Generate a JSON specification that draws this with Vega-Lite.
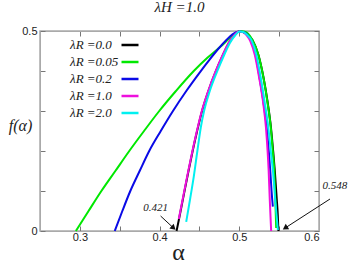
{
  "$schema": "https://vega.github.io/schema/vega-lite/v6.json",
  "width": 279,
  "height": 200,
  "autosize": "none",
  "padding": {"left": 40, "top": 31, "right": 35, "bottom": 36},
  "background": "white",
  "title": {"text": "λH =1.0", "font": "Liberation Serif", "fontStyle": "italic", "fontSize": 15, "fontWeight": "normal", "color": "#222", "offset": 10, "anchor": "middle"},
  "config": {
    "view": {"stroke": "#aaa", "strokeWidth": 1.5},
    "axis": {"domainColor": "#aaa", "tickColor": "#777", "labelFont": "Liberation Sans", "labelFontSize": 11, "labelColor": "#222", "grid": false}
  },
  "datasets": {
    "curves": [
      {"lambda": "λR =0.0", "alpha": 0.4213, "f": 0},
      {"lambda": "λR =0.0", "alpha": 0.4244, "f": 0.03},
      {"lambda": "λR =0.0", "alpha": 0.4313, "f": 0.1},
      {"lambda": "λR =0.0", "alpha": 0.4363, "f": 0.15},
      {"lambda": "λR =0.0", "alpha": 0.4415, "f": 0.2},
      {"lambda": "λR =0.0", "alpha": 0.4471, "f": 0.25},
      {"lambda": "λR =0.0", "alpha": 0.4533, "f": 0.3},
      {"lambda": "λR =0.0", "alpha": 0.4613, "f": 0.35},
      {"lambda": "λR =0.0", "alpha": 0.4708, "f": 0.4},
      {"lambda": "λR =0.0", "alpha": 0.4795, "f": 0.44},
      {"lambda": "λR =0.0", "alpha": 0.4868, "f": 0.47},
      {"lambda": "λR =0.0", "alpha": 0.4943, "f": 0.49},
      {"lambda": "λR =0.0", "alpha": 0.4995, "f": 0.4985},
      {"lambda": "λR =0.0", "alpha": 0.5045, "f": 0.4975},
      {"lambda": "λR =0.0", "alpha": 0.5095, "f": 0.492},
      {"lambda": "λR =0.0", "alpha": 0.5165, "f": 0.4775},
      {"lambda": "λR =0.0", "alpha": 0.524, "f": 0.44},
      {"lambda": "λR =0.0", "alpha": 0.5305, "f": 0.3825},
      {"lambda": "λR =0.0", "alpha": 0.5357, "f": 0.32},
      {"lambda": "λR =0.0", "alpha": 0.5398, "f": 0.2575},
      {"lambda": "λR =0.0", "alpha": 0.5425, "f": 0.2},
      {"lambda": "λR =0.0", "alpha": 0.5445, "f": 0.1525},
      {"lambda": "λR =0.0", "alpha": 0.547, "f": 0.08},
      {"lambda": "λR =0.0", "alpha": 0.5483, "f": 0.04},
      {"lambda": "λR =0.0", "alpha": 0.5491, "f": 0},

      {"lambda": "λR =0.05", "alpha": 0.295, "f": 0},
      {"lambda": "λR =0.05", "alpha": 0.3109, "f": 0.05},
      {"lambda": "λR =0.05", "alpha": 0.327, "f": 0.1},
      {"lambda": "λR =0.05", "alpha": 0.3445, "f": 0.15},
      {"lambda": "λR =0.05", "alpha": 0.362, "f": 0.2},
      {"lambda": "λR =0.05", "alpha": 0.3805, "f": 0.25},
      {"lambda": "λR =0.05", "alpha": 0.3996, "f": 0.3},
      {"lambda": "λR =0.05", "alpha": 0.4205, "f": 0.35},
      {"lambda": "λR =0.05", "alpha": 0.4429, "f": 0.4},
      {"lambda": "λR =0.05", "alpha": 0.46, "f": 0.433},
      {"lambda": "λR =0.05", "alpha": 0.4766, "f": 0.461},
      {"lambda": "λR =0.05", "alpha": 0.4909, "f": 0.487},
      {"lambda": "λR =0.05", "alpha": 0.501, "f": 0.5},
      {"lambda": "λR =0.05", "alpha": 0.5058, "f": 0.499},
      {"lambda": "λR =0.05", "alpha": 0.5108, "f": 0.494},
      {"lambda": "λR =0.05", "alpha": 0.5163, "f": 0.4785},
      {"lambda": "λR =0.05", "alpha": 0.524, "f": 0.44},
      {"lambda": "λR =0.05", "alpha": 0.5304, "f": 0.3825},
      {"lambda": "λR =0.05", "alpha": 0.5355, "f": 0.32},
      {"lambda": "λR =0.05", "alpha": 0.5396, "f": 0.2575},
      {"lambda": "λR =0.05", "alpha": 0.542, "f": 0.2},
      {"lambda": "λR =0.05", "alpha": 0.5438, "f": 0.1525},
      {"lambda": "λR =0.05", "alpha": 0.5452, "f": 0.08},
      {"lambda": "λR =0.05", "alpha": 0.5463, "f": 0.0075},

      {"lambda": "λR =0.2", "alpha": 0.3438, "f": 0},
      {"lambda": "λR =0.2", "alpha": 0.3533, "f": 0.05},
      {"lambda": "λR =0.2", "alpha": 0.3633, "f": 0.1},
      {"lambda": "λR =0.2", "alpha": 0.375, "f": 0.15},
      {"lambda": "λR =0.2", "alpha": 0.387, "f": 0.2},
      {"lambda": "λR =0.2", "alpha": 0.4015, "f": 0.25},
      {"lambda": "λR =0.2", "alpha": 0.4168, "f": 0.3},
      {"lambda": "λR =0.2", "alpha": 0.4335, "f": 0.35},
      {"lambda": "λR =0.2", "alpha": 0.451, "f": 0.398},
      {"lambda": "λR =0.2", "alpha": 0.4625, "f": 0.428},
      {"lambda": "λR =0.2", "alpha": 0.4735, "f": 0.455},
      {"lambda": "λR =0.2", "alpha": 0.4835, "f": 0.477},
      {"lambda": "λR =0.2", "alpha": 0.4915, "f": 0.4915},
      {"lambda": "λR =0.2", "alpha": 0.499, "f": 0.4985},
      {"lambda": "λR =0.2", "alpha": 0.5045, "f": 0.4975},
      {"lambda": "λR =0.2", "alpha": 0.5095, "f": 0.492},
      {"lambda": "λR =0.2", "alpha": 0.5145, "f": 0.476},
      {"lambda": "λR =0.2", "alpha": 0.5205, "f": 0.44},
      {"lambda": "λR =0.2", "alpha": 0.5255, "f": 0.3825},
      {"lambda": "λR =0.2", "alpha": 0.5305, "f": 0.32},
      {"lambda": "λR =0.2", "alpha": 0.5345, "f": 0.2575},
      {"lambda": "λR =0.2", "alpha": 0.537, "f": 0.2},
      {"lambda": "λR =0.2", "alpha": 0.5388, "f": 0.1525},
      {"lambda": "λR =0.2", "alpha": 0.5405, "f": 0.1},
      {"lambda": "λR =0.2", "alpha": 0.5421, "f": 0.061},

      {"lambda": "λR =1.0", "alpha": 0.4241, "f": 0.03},
      {"lambda": "λR =1.0", "alpha": 0.431, "f": 0.1},
      {"lambda": "λR =1.0", "alpha": 0.436, "f": 0.15},
      {"lambda": "λR =1.0", "alpha": 0.4412, "f": 0.2},
      {"lambda": "λR =1.0", "alpha": 0.4468, "f": 0.25},
      {"lambda": "λR =1.0", "alpha": 0.453, "f": 0.3},
      {"lambda": "λR =1.0", "alpha": 0.461, "f": 0.35},
      {"lambda": "λR =1.0", "alpha": 0.4705, "f": 0.4},
      {"lambda": "λR =1.0", "alpha": 0.4792, "f": 0.44},
      {"lambda": "λR =1.0", "alpha": 0.4865, "f": 0.47},
      {"lambda": "λR =1.0", "alpha": 0.494, "f": 0.49},
      {"lambda": "λR =1.0", "alpha": 0.499, "f": 0.4985},
      {"lambda": "λR =1.0", "alpha": 0.504, "f": 0.4975},
      {"lambda": "λR =1.0", "alpha": 0.509, "f": 0.49},
      {"lambda": "λR =1.0", "alpha": 0.5138, "f": 0.475},
      {"lambda": "λR =1.0", "alpha": 0.5195, "f": 0.44},
      {"lambda": "λR =1.0", "alpha": 0.525, "f": 0.3825},
      {"lambda": "λR =1.0", "alpha": 0.53, "f": 0.32},
      {"lambda": "λR =1.0", "alpha": 0.5335, "f": 0.2575},
      {"lambda": "λR =1.0", "alpha": 0.5355, "f": 0.2},
      {"lambda": "λR =1.0", "alpha": 0.5368, "f": 0.1525},
      {"lambda": "λR =1.0", "alpha": 0.5382, "f": 0.08},
      {"lambda": "λR =1.0", "alpha": 0.5393, "f": 0.03},
      {"lambda": "λR =1.0", "alpha": 0.54, "f": 0},

      {"lambda": "λR =2.0", "alpha": 0.4334, "f": 0.023},
      {"lambda": "λR =2.0", "alpha": 0.4383, "f": 0.08},
      {"lambda": "λR =2.0", "alpha": 0.4429, "f": 0.136},
      {"lambda": "λR =2.0", "alpha": 0.4474, "f": 0.2},
      {"lambda": "λR =2.0", "alpha": 0.4518, "f": 0.26},
      {"lambda": "λR =2.0", "alpha": 0.4558, "f": 0.3},
      {"lambda": "λR =2.0", "alpha": 0.463, "f": 0.35},
      {"lambda": "λR =2.0", "alpha": 0.4725, "f": 0.4},
      {"lambda": "λR =2.0", "alpha": 0.481, "f": 0.44},
      {"lambda": "λR =2.0", "alpha": 0.4882, "f": 0.47},
      {"lambda": "λR =2.0", "alpha": 0.4952, "f": 0.49},
      {"lambda": "λR =2.0", "alpha": 0.5003, "f": 0.4985},
      {"lambda": "λR =2.0", "alpha": 0.505, "f": 0.4975},
      {"lambda": "λR =2.0", "alpha": 0.51, "f": 0.49},
      {"lambda": "λR =2.0", "alpha": 0.5155, "f": 0.476},
      {"lambda": "λR =2.0", "alpha": 0.5215, "f": 0.44},
      {"lambda": "λR =2.0", "alpha": 0.527, "f": 0.3825},
      {"lambda": "λR =2.0", "alpha": 0.532, "f": 0.32},
      {"lambda": "λR =2.0", "alpha": 0.5365, "f": 0.2575},
      {"lambda": "λR =2.0", "alpha": 0.5395, "f": 0.2},
      {"lambda": "λR =2.0", "alpha": 0.5421, "f": 0.1525},
      {"lambda": "λR =2.0", "alpha": 0.545, "f": 0.08},
      {"lambda": "λR =2.0", "alpha": 0.5484, "f": 0.0025}
    ],
    "notes": [
      {"label": "0.421", "alpha": 0.395, "f": 0.0575},
      {"label": "0.548", "alpha": 0.62, "f": 0.1125}
    ],
    "arrows": [
      {"label": "0.421", "alpha": 0.4013, "f": 0.0375, "alpha2": 0.4175, "f2": 0.0075},
      {"label": "0.548", "alpha": 0.6138, "f": 0.08, "alpha2": 0.5575, "f2": 0.0075}
    ]
  },
  "layer": [
    {
      "data": {"name": "curves"},
      "mark": {"type": "line", "strokeWidth": 2, "interpolate": "monotone"},
      "encoding": {
        "x": {
          "field": "alpha", "type": "quantitative",
          "scale": {"domain": [0.25, 0.6], "nice": false, "zero": false},
          "axis": {
            "orient": "bottom",
            "values": [0.25, 0.3, 0.35, 0.4, 0.45, 0.5, 0.55, 0.6],
            "format": ".2~f",
            "labelExpr": "datum.label == '0.3' || datum.label == '0.4' || datum.label == '0.5' || datum.label == '0.6' ? datum.label : ''",
            "tickSize": -5,
            "labelPadding": 5,
            "title": "α",
            "titleFont": "Liberation Serif",
            "titleFontSize": 24,
            "titleFontWeight": "normal",
            "titleColor": "#222",
            "titleX": 138,
            "titleY": 21,
            "titleBaseline": "middle"
          }
        },
        "y": {
          "field": "f", "type": "quantitative",
          "scale": {"domain": [0, 0.5], "nice": false},
          "axis": {
            "orient": "left",
            "values": [0, 0.1, 0.2, 0.3, 0.4, 0.5],
            "format": "~g",
            "labelExpr": "datum.value == 0 || datum.value == 0.5 ? datum.label : ''",
            "tickSize": -5,
            "labelPadding": 8,
            "title": "f(α)",
            "titleAngle": 0,
            "titleFont": "Liberation Serif",
            "titleFontStyle": "italic",
            "titleFontSize": 16,
            "titleFontWeight": "normal",
            "titleColor": "#222",
            "titleX": -20,
            "titleY": 94,
            "titleAlign": "center",
            "titleBaseline": "middle"
          }
        },
        "color": {
          "field": "lambda", "type": "nominal",
          "scale": {
            "domain": ["λR =0.0", "λR =0.05", "λR =0.2", "λR =1.0", "λR =2.0"],
            "range": ["#000000", "#00e800", "#0a0ae6", "#ee10dd", "#00f0f0"]
          },
          "legend": {
            "orient": "none",
            "legendX": 80,
            "legendY": 4,
            "title": null,
            "padding": 0,
            "symbolType": "stroke",
            "symbolStrokeWidth": 2.5,
            "symbolSize": 289,
            "labelFont": "Liberation Serif",
            "labelFontStyle": "italic",
            "labelFontSize": 13,
            "labelColor": "#222",
            "labelAlign": "left",
            "labelOffset": -70,
            "labelLimit": 0,
            "rowPadding": -2
          }
        }
      }
    },
    {
      "data": {"name": "notes"},
      "mark": {"type": "text", "font": "Liberation Serif", "fontStyle": "italic", "fontSize": 11, "color": "#222"},
      "encoding": {
        "x": {"field": "alpha", "type": "quantitative", "axis": {"orient": "top", "values": [0.25, 0.3, 0.35, 0.4, 0.45, 0.5, 0.55, 0.6], "labels": false, "tickSize": -5, "title": null}},
        "y": {"field": "f", "type": "quantitative", "axis": {"orient": "right", "values": [0, 0.1, 0.2, 0.3, 0.4, 0.5], "labels": false, "tickSize": -5, "title": null}},
        "text": {"field": "label"}
      }
    },
    {
      "data": {"name": "arrows"},
      "mark": {"type": "rule", "strokeWidth": 1, "color": "#111"},
      "encoding": {
        "x": {"field": "alpha", "type": "quantitative", "axis": null},
        "y": {"field": "f", "type": "quantitative", "axis": null},
        "x2": {"field": "alpha2"},
        "y2": {"field": "f2"}
      }
    },
    {
      "data": {"name": "arrows"},
      "transform": [{"filter": "datum.label == '0.421'"}],
      "mark": {"type": "point", "shape": "triangle-up", "filled": true, "color": "#111", "size": 40, "angle": 133, "opacity": 1},
      "encoding": {
        "x": {"field": "alpha2", "type": "quantitative", "axis": null},
        "y": {"field": "f2", "type": "quantitative", "axis": null}
      }
    },
    {
      "data": {"name": "arrows"},
      "transform": [{"filter": "datum.label == '0.548'"}],
      "mark": {"type": "point", "shape": "triangle-up", "filled": true, "color": "#111", "size": 40, "angle": 237, "opacity": 1},
      "encoding": {
        "x": {"field": "alpha2", "type": "quantitative", "axis": null},
        "y": {"field": "f2", "type": "quantitative", "axis": null}
      }
    }
  ],
  "resolve": {"axis": {"x": "independent", "y": "independent"}}
}
